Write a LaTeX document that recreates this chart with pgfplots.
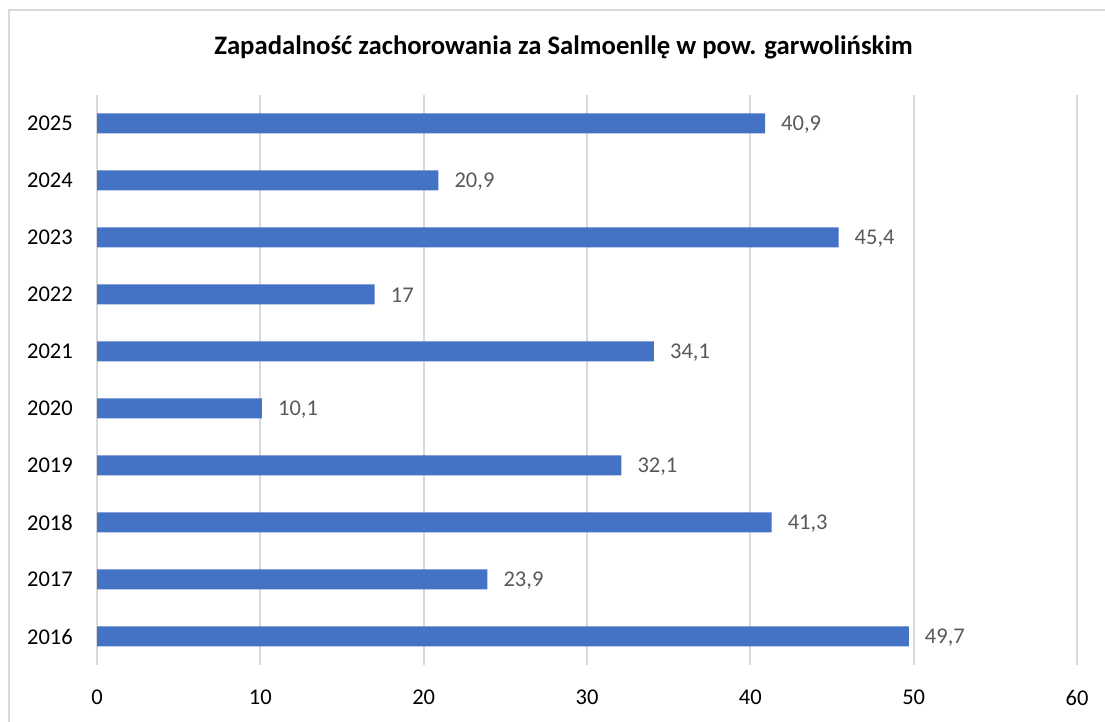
\documentclass[border=0pt]{standalone}
\usepackage{pgfplots}
\pgfplotsset{compat=1.18}
\usepackage{fontspec}
\setmainfont{Carlito}
\definecolor{barblue}{HTML}{4472C4}
\definecolor{gridgray}{HTML}{D9D9D9}
\definecolor{labgray}{HTML}{595959}
\begin{document}
\begin{tikzpicture}
\useasboundingbox (0pt,0pt) rectangle (1105pt,722pt);
\draw[gridgray, line width=1.5pt] (9pt,-30pt) rectangle (1130pt,712pt);
\node[anchor=base, font=\fontsize{26.7}{32}\selectfont\bfseries] at (563.5pt,667pt) {Zapadalność zachorowania za Salmoenllę w pow. garwolińskim};
\begin{axis}[
  at={(97pt,57pt)}, anchor=south west,
  scale only axis,
  width=980pt, height=570pt,
  xbar, bar width=20pt,
  xmin=0, xmax=60,
  ymin=-0.5, ymax=9.5,
  xtick={0,10,...,60},
  ytick={0,...,9},
  yticklabels={2016,2017,2018,2019,2020,2021,2022,2023,2024,2025},
  xmajorgrids,
  grid style={gridgray, line width=1.8pt},
  axis line style={draw=none},
  major tick length=0pt,
  /pgf/number format/assume math mode=true,
  tick label style={font=\fontsize{22.5}{27}\selectfont, text=black, inner sep=0pt},
  xticklabel style={yshift=-25pt},
  yticklabel style={xshift=-24pt},
  nodes near coords,
  nodes near coords style={font=\fontsize{22.5}{27}\selectfont, text=labgray, anchor=west, inner sep=0pt, xshift=16pt, yshift=-1pt,
    /pgf/number format/.cd, fixed, precision=1, use comma, assume math mode=true},
]
\addplot[fill=barblue, draw=none] coordinates {
(49.7,0) (23.9,1) (41.3,2) (32.1,3) (10.1,4) (34.1,5) (17,6) (45.4,7) (20.9,8) (40.9,9)
};
\end{axis}
\end{tikzpicture}
\end{document}
